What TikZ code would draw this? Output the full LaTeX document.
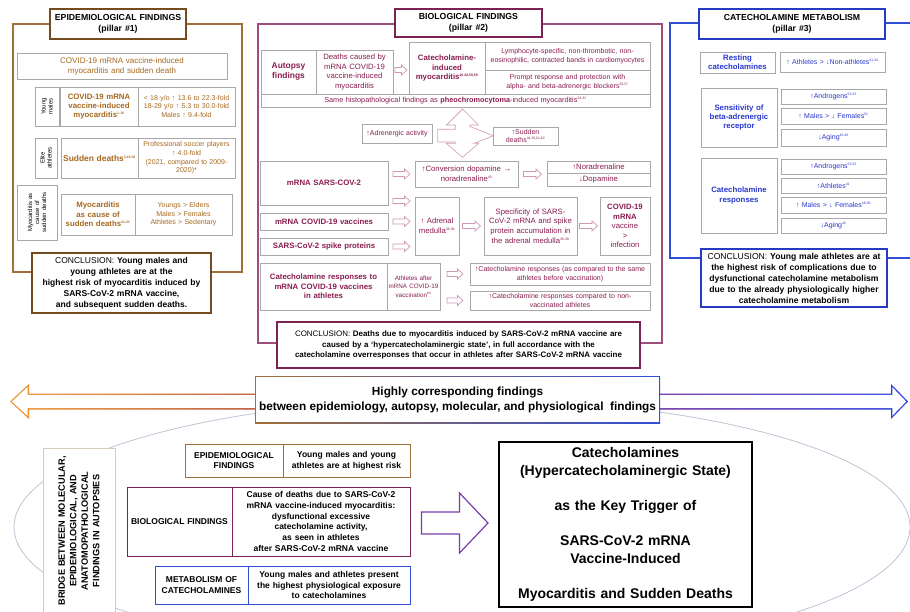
\documentclass[tikz,border=0pt]{standalone}
\usepackage{fontspec}
\setmainfont{Liberation Sans}
\usetikzlibrary{calc}

\definecolor{p1line}{RGB}{160,112,58}
\definecolor{p1dark}{RGB}{118,74,32}
\definecolor{p1text}{RGB}{166,104,30}
\definecolor{p2line}{RGB}{158,78,124}
\definecolor{p2dark}{RGB}{122,34,84}
\definecolor{p2text}{RGB}{138,28,80}
\definecolor{p2arrow}{RGB}{208,152,182}
\definecolor{p3line}{RGB}{48,78,214}
\definecolor{p3dark}{RGB}{38,58,196}
\definecolor{p3text}{RGB}{40,56,206}
\definecolor{boxgray}{RGB}{168,168,168}
\definecolor{ellgray}{RGB}{188,196,210}
\definecolor{bandorange}{RGB}{236,150,46}
\definecolor{bandred}{RGB}{186,78,48}
\definecolor{bandpurple}{RGB}{108,44,160}
\definecolor{bandblue}{RGB}{40,62,228}
\definecolor{keypurple}{RGB}{122,62,172}
\definecolor{bridgeline}{RGB}{214,204,190}

\newcommand{\supref}[1]{\textsuperscript{\fontsize{3.4}{3.6}\selectfont #1}}

\begin{document}
\begin{tikzpicture}[x=1pt,y=-1pt,
  cell/.style={draw=boxgray,line width=.6pt,fill=white},
  ttl/.style={draw,line width=1.1pt,fill=white,font=\fontsize{8.7}{10.8}\selectfont\bfseries},
  concl/.style={draw,line width=1.1pt,fill=white,font=\fontsize{8.5}{11}\selectfont},
  sm/.style={font=\fontsize{7}{8.6}\selectfont},
  md/.style={font=\fontsize{7.7}{9.6}\selectfont},
  bf/.style={font=\fontsize{7.8}{9.3}\selectfont\bfseries},
  vl/.style={font=\fontsize{6}{7}\selectfont},
  btm/.style={draw,line width=1pt,fill=white,font=\fontsize{8.5}{10.8}\selectfont\bfseries},
  flowarrow/.style={draw=p2arrow,line width=.7pt,fill=white},
  pillar/.style={line width=1.2pt}]
\useasboundingbox (0,0) rectangle (910,612);
\def\bx#1#2#3#4#5#6#7{%
  \pgfmathsetmacro\bw{#4-#2}\pgfmathsetmacro\bh{#5-#3}\pgfmathsetmacro\tw{#4-#2-2}%
  \node[inner sep=0pt,outer sep=0pt,align=center,minimum width=\bw pt,minimum height=\bh pt,text width=\tw pt,#6] (#1) at ({(#2+#4)/2},{(#3+#5)/2}) {#7};}
\def\vbx#1#2#3#4#5#6#7{%
  \pgfmathsetmacro\bw{#4-#2}\pgfmathsetmacro\bh{#5-#3}\pgfmathsetmacro\tw{#5-#3-2}%
  \node[rotate=90,inner sep=0pt,outer sep=0pt,align=center,minimum width=\bh pt,minimum height=\bw pt,text width=\tw pt,#6] (#1) at ({(#2+#4)/2},{(#3+#5)/2}) {#7};}
\def\sarr#1#2{\draw[flowarrow] #1 ++(-#2,-2.5) -- ++({2*#2-5.5},0) -- ++(0,-2.5) -- ++(5.5,5) -- ++(-5.5,5) -- ++(0,-2.5) -- ++({5.5-2*#2},0) -- cycle;}

% bridge ellipse (behind everything)
\draw[ellgray,line width=.8pt] (462,527) ellipse [x radius=448, y radius=128];

% pillar 1
\draw[p1line,pillar] (13,24) rectangle (242,272);
\bx{epiT}{50}{9}{186}{39}{ttl,draw=p1dark}{EPIDEMIOLOGICAL FINDINGS\\(pillar \#1)}
\bx{epiA}{17}{53}{227}{79}{cell,text=p1text,font=\fontsize{8}{10}\selectfont}{COVID-19 mRNA vaccine-induced\\myocarditis and sudden death}
\vbx{epiYm}{35}{87}{59}{126}{cell,vl}{Young\\males}
\bx{epiMy}{60}{87}{138}{126}{cell,bf,text=p1text}{COVID-19 mRNA\\vaccine-induced\\myocarditis\supref{1-10}}
\bx{epiMyV}{138}{87}{235}{126}{cell,sm,text=p1text}{< 18 y/o ↑ 13.6 to 22.3-fold\\18-29 y/o ↑ 5.3 to 30.0-fold\\Males ↑ 9.4-fold}
\vbx{epiEa}{35}{138}{57}{178}{cell,vl}{Elite\\athletes}
\bx{epiSd}{61}{138}{138}{178}{cell,text=p1text,font=\fontsize{8.4}{10}\selectfont\bfseries}{Sudden deaths\supref{3,10-20}}
\bx{epiSdV}{138}{138}{235}{178}{cell,sm,text=p1text}{Professional soccer players\\↑ 4.0-fold\\(2021, compared to 2009-\\2020)*}
\vbx{epiMc}{17}{185}{57}{240}{cell,vl}{Myocarditis as\\cause of\\sudden deaths}
\bx{epiCs}{61}{194}{135}{235}{cell,bf,text=p1text}{Myocarditis\\as cause of\\sudden deaths\supref{21-23}}
\bx{epiCsV}{135}{194}{232}{235}{cell,sm,text=p1text}{Youngs > Elders\\Males > Females\\Athletes > Sedentary}
\bx{epiC}{32}{253}{211}{313}{concl,draw=p1dark}{CONCLUSION: \bfseries Young males and\\young athletes are at the\\highest risk of myocarditis induced by\\SARS-CoV-2 mRNA vaccine,\\and subsequent sudden deaths.}

% pillar 2
\draw[p2line,pillar] (258,24) rectangle (662,343);
\bx{bioT}{395}{9}{542}{37}{ttl,draw=p2dark}{BIOLOGICAL FINDINGS\\(pillar \#2)}
\bx{aut}{261}{50}{316}{94}{cell,text=p2text,font=\fontsize{8.4}{10}\selectfont\bfseries}{Autopsy\\findings}
\bx{dth}{316}{50}{393}{94}{cell,md,text=p2text}{Deaths caused by\\mRNA COVID-19\\vaccine-induced\\myocarditis}
\bx{cim}{409}{42}{485}{94}{cell,bf,text=p2text}{Catecholamine-\\induced\\myocarditis\supref{26-28,58,59}}
\bx{lym}{485}{42}{650}{70}{cell,sm,text=p2text}{Lymphocyte-specific, non-thrombotic, non-\\eosinophilic, contracted bands in cardiomyocytes}
\bx{prm}{485}{70}{650}{94}{cell,sm,text=p2text}{Prompt response and protection with\\alpha- and beta-adrenergic blockers\supref{56,57}}
\bx{same}{261}{94}{650}{107}{cell,text=p2text,font=\fontsize{7.3}{8.6}\selectfont}{Same histopathological findings as \textbf{pheochromocytoma}-induced myocarditis\supref{24-32}}
\sarr{($(dth.east)!.5!(cim.west)$)}{6}
\bx{adr}{362}{124}{432}{143}{cell,sm,text=p2text}{↑Adrenergic activity}
\bx{sud}{493}{127}{558}{145}{cell,sm,text=p2text}{↑Sudden\\deaths\supref{34,35,61,62}}
\coordinate (xc) at ($(adr.east)!.5!(sud.west)$);
\begin{scope}[shift={(xc)}]
\def\vpath{(0,-25) -- (15,-10) -- (7,-10) -- (7,9) -- (15,9) -- (0,22) -- (-15,9) -- (-7,9) -- (-7,-10) -- (-15,-10) -- cycle}
\def\hpath{(-24.5,-5) -- (7,-5) -- (7,-8) -- (29.5,1) -- (7,10) -- (7,7) -- (-24.5,7) -- cycle}
\draw[p2arrow,line width=1.5pt] \vpath;
\draw[p2arrow,line width=1.5pt] \hpath;
\fill[white] \vpath;
\fill[white] \hpath;
\end{scope}
\bx{msc}{260}{161}{388}{205}{cell,bf,text=p2text}{mRNA SARS-COV-2}
\bx{conv}{415}{161}{518}{187}{cell,md,text=p2text}{↑Conversion dopamine →\\noradrenaline\supref{40}}
\bx{nor}{547}{161}{650}{173}{cell,md,text=p2text}{↑Noradrenaline}
\bx{dop}{547}{173}{650}{186}{cell,md,text=p2text}{↓Dopamine}
\bx{mcv}{260}{213}{388}{230}{cell,bf,text=p2text}{mRNA COVID-19 vaccines}
\bx{ssp}{260}{238}{388}{255}{cell,bf,text=p2text}{SARS-CoV-2 spike proteins}
\bx{adm}{415}{197}{459}{255}{cell,md,text=p2text}{↑ Adrenal\\medulla\supref{36-39}}
\bx{spc}{484}{197}{577}{255}{cell,md,text=p2text}{Specificity of SARS-\\CoV-2 mRNA and spike\\protein accumulation in\\the adrenal medulla\supref{36-39}}
\bx{inf}{600}{197}{650}{255}{cell,md,text=p2text}{\textbf{COVID-19}\\\textbf{mRNA}\\vaccine\\>\\infection}
\sarr{($(msc.east |- conv.west)!.5!(conv.west)$)}{8.5}
\sarr{($(conv.east)!.5!(conv.east -| nor.west)$)}{9}
\sarr{($(msc.south east)!.5!(adm.north west)$)}{8.5}
\sarr{($(mcv.east)!.5!(mcv.east -| adm.west)$)}{8.5}
\sarr{($(ssp.east)!.5!(ssp.east -| adm.west)$)}{8.5}
\sarr{($(adm.east)!.5!(spc.west)$)}{9}
\sarr{($(spc.east)!.5!(inf.west)$)}{9}
\bx{cra}{260}{263}{387}{310}{cell,bf,text=p2text}{Catecholamine responses to\\mRNA COVID-19 vaccines\\in athletes}
\bx{aav}{387}{263}{440}{310}{cell,text=p2text,font=\fontsize{6.3}{8.6}\selectfont}{Athletes after\\mRNA COVID-19\\vaccination\supref{64}}
\bx{rsp1}{470}{263}{650}{285}{cell,sm,text=p2text}{↑Catecholamine responses (as compared to the same\\athletes before vaccination)}
\bx{rsp2}{470}{291}{650}{310}{cell,sm,text=p2text}{↑Catecholamine responses compared to non-\\vaccinated athletes}
\sarr{($(aav.east |- rsp1.west)!.5!(rsp1.west)$)}{8}
\sarr{($(aav.east |- rsp2.west)!.5!(rsp2.west)$)}{8}
\bx{bioC}{277}{322}{640}{368}{concl,draw=p2dark,font=\fontsize{7.95}{10.8}\selectfont}{CONCLUSION: \bfseries Deaths due to myocarditis induced by SARS-CoV-2 mRNA vaccine are\\caused by a ‘hypercatecholaminergic state’, in full accordance with the\\catecholamine overresponses that occur in athletes after SARS-CoV-2 mRNA vaccine}

% pillar 3
\draw[p3line,pillar] (670,23) rectangle (916,258);
\bx{metT}{699}{9}{885}{39}{ttl,draw=p3dark}{CATECHOLAMINE METABOLISM\\(pillar \#3)}
\bx{rest}{700}{52}{775}{73}{cell,bf,text=p3text}{Resting\\catecholamines}
\bx{restV}{780}{52}{885}{72}{cell,sm,text=p3text}{↑ Athletes > ↓Non-athletes\supref{41-43}}
\bx{sens}{701}{88}{777}{147}{cell,bf,text=p3text}{Sensitivity of\\beta-adrenergic\\receptor}
\bx{sensA}{781}{89}{886}{104}{cell,sm,text=p3text}{↑Androgens\supref{52,53}}
\bx{sensB}{781}{108}{886}{124}{cell,sm,text=p3text}{↑ Males > ↓ Females\supref{51}}
\bx{sensC}{781}{129}{886}{146}{cell,sm,text=p3text}{↓Aging\supref{45,46}}
\bx{resp}{701}{158}{777}{233}{cell,bf,text=p3text}{Catecholamine\\responses}
\bx{respA}{781}{159}{886}{174}{cell,sm,text=p3text}{↑Androgens\supref{52,53}}
\bx{respB}{781}{178}{886}{193}{cell,sm,text=p3text}{↑Athletes\supref{41}}
\bx{respC}{781}{197}{886}{213}{cell,sm,text=p3text}{↑ Males > ↓ Females\supref{48-50}}
\bx{respD}{781}{218}{886}{233}{cell,sm,text=p3text}{↓Aging\supref{44}}
\bx{metC}{701}{249}{887}{307}{concl,draw=p3dark,font=\fontsize{8.6}{11}\selectfont}{CONCLUSION: \bfseries Young male athletes are at\\the highest risk of complications due to\\dysfunctional catecholamine metabolism\\due to the already physiologically higher\\catecholamine metabolism}

% band with arrows to both sides
\shade[left color=bandorange,right color=bandred] (10,401.5) -- (29,384) -- (29,393.5) -- (258,393.5) -- (258,409.5) -- (29,409.5) -- (29,419) -- cycle;
\fill[white] (11.9,401.5) -- (27.7,386.9) -- (27.7,394.8) -- (258,394.8) -- (258,408.2) -- (27.7,408.2) -- (27.7,416.1) -- cycle;
\shade[left color=bandpurple,right color=bandblue] (657,393.5) -- (891,393.5) -- (891,384) -- (908,401.5) -- (891,419) -- (891,409.5) -- (657,409.5) -- cycle;
\fill[white] (657,394.8) -- (892.3,394.8) -- (892.3,387.2) -- (906.2,401.5) -- (892.3,415.8) -- (892.3,408.2) -- (657,408.2) -- cycle;
\shade[left color=p1line,middle color=p2dark,right color=p3line] (255,376) rectangle (660,423);
\fill[white] (256.2,377.2) rectangle (658.8,421.8);
\node[font=\fontsize{11.8}{15}\selectfont\bfseries,align=center] (band) at (457.5,399.5) {Highly corresponding findings\\between epidemiology, autopsy, molecular, and physiological\ \ findings};

% bottom part
\vbx{brg}{43}{448}{115}{614}{draw=bridgeline,line width=.9pt,fill=white,font=\fontsize{9.2}{11.5}\selectfont\bfseries}{BRIDGE BETWEEN MOLECULAR,\\EPIDEMIOLOGICAL, AND\\ANATOMOPATHOLOGICAL\\FINDINGS IN AUTOPSIES}
\bx{bEpi}{185}{444}{283}{477}{btm,draw=p1line}{EPIDEMIOLOGICAL\\FINDINGS}
\bx{bEpiV}{283}{444}{410}{477}{btm,draw=p1line}{Young males and young\\athletes are at highest risk}
\bx{bBio}{127}{487}{232}{556}{btm,draw=p2dark}{BIOLOGICAL FINDINGS}
\bx{bBioV}{232}{487}{410}{556}{btm,draw=p2dark}{Cause of deaths due to SARS-CoV-2\\mRNA vaccine-induced myocarditis:\\dysfunctional excessive\\catecholamine activity,\\as seen in athletes\\after SARS-CoV-2 mRNA vaccine}
\bx{bMet}{155}{566}{248}{604}{btm,draw=p3line}{METABOLISM OF\\CATECHOLAMINES}
\bx{bMetV}{248}{566}{410}{604}{btm,draw=p3line}{Young males and athletes present\\the highest physiological exposure\\to catecholamines}
\bx{key}{499}{442}{752}{607}{draw,line width=1.8pt,fill=white,font=\fontsize{14}{18}\selectfont\bfseries}{Catecholamines\\(Hypercatecholaminergic State)\\[17pt]as the Key Trigger of\\[17pt]SARS-CoV-2 mRNA\\Vaccine-Induced\\[17pt]Myocarditis and Sudden Deaths}
\coordinate (ka) at ($(bBioV.east)!.5!(key.west)$);
\draw[keypurple,line width=1.2pt,fill=white] (ka) ++(-33,-11) -- ++(38,0) -- ++(0,-19) -- ++(28.5,30) -- ++(-28.5,30) -- ++(0,-19) -- ++(-38,0) -- cycle;
\end{tikzpicture}
\end{document}
